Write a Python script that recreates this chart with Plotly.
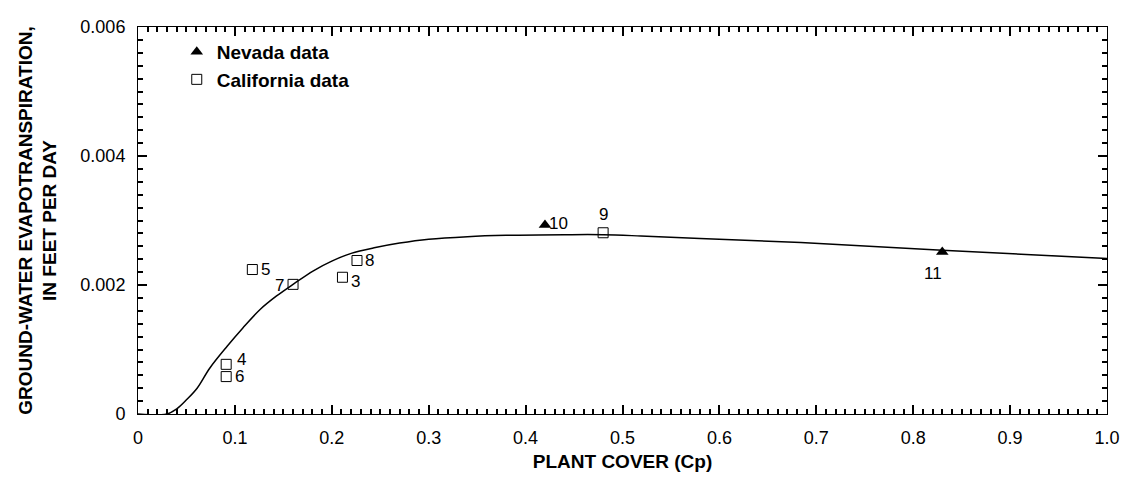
import plotly.graph_objects as go

# ---- data ----
ca_id = ["3", "8", "7", "5", "4", "6", "9"]
ca_cover = [0.211, 0.226, 0.160, 0.118, 0.091, 0.091, 0.480]
ca_et = [0.00212, 0.00238, 0.00201, 0.00224, 0.00077, 0.00058, 0.00281]

nv_id = ["10", "11"]
nv_cover = [0.420, 0.830]
nv_et = [0.00293, 0.00251]

curve_cover = [0.0, 0.030, 0.040, 0.050, 0.061, 0.074, 0.092, 0.108, 0.126, 0.143,
               0.160, 0.181, 0.200, 0.220, 0.245, 0.270, 0.300, 0.340, 0.380, 0.440,
               0.480, 0.519, 0.580, 0.684, 0.830, 1.0]
curve_et = [0.0, 0.0, 0.00008, 0.00022, 0.00040, 0.00071, 0.00105, 0.00133, 0.00162, 0.00183,
            0.00201, 0.00222, 0.00237, 0.00249, 0.00258, 0.00265, 0.00271, 0.00275, 0.00277,
            0.00278, 0.00278, 0.00276, 0.00272, 0.00266, 0.00254, 0.00241]

x_dtick = 0.1
y_dtick = 0.002
x_label_alias = {"1": "1.0"}

# label placement (pixel offsets from marker)
label_offsets = {
    "3": (13, -4), "8": (13, 0), "7": (-14, -1), "5": (13, 0), "4": (15, 5),
    "6": (13, 0), "9": (0, 18), "10": (14, 2), "11": (-9, -21),
}

FONT = "Liberation Sans, Arial, Helvetica, sans-serif"

fig = go.Figure()
fig.add_trace(go.Scatter(
    x=curve_cover, y=curve_et, mode="lines", showlegend=False,
    line=dict(color="black", width=1.5, shape="spline", smoothing=1.0),
    hoverinfo="skip"))
fig.add_trace(go.Scatter(
    x=nv_cover, y=nv_et, mode="markers", name="<b>Nevada data</b>", legendgroup="nv",
    marker=dict(symbol="triangle-up", size=11, color="black")))
fig.add_trace(go.Scatter(
    x=ca_cover, y=ca_et, mode="markers", name="<b>California data</b>", legendgroup="ca",
    marker=dict(symbol="square-open", size=10, color="black", line=dict(width=1))))

annotations = []
for ids, xs, ys in ((ca_id, ca_cover, ca_et), (nv_id, nv_cover, nv_et)):
    for lab, xv, yv in zip(ids, xs, ys):
        dx, dy = label_offsets[lab]
        annotations.append(dict(
            x=xv, y=yv, xref="x", yref="y", text=lab, showarrow=False,
            xshift=dx, yshift=dy, font=dict(size=17, color="black", family=FONT)))

axis_common = dict(
    showgrid=False, zeroline=False, showline=True, linecolor="black", linewidth=1,
    mirror="allticks", ticks="inside", tickcolor="black", ticklen=9, tickwidth=1.5,
    tickmode="linear", tick0=0, automargin=False,
    tickfont=dict(size=18, color="black", family=FONT))

fig.update_xaxes(
    range=[0, 1.0], dtick=x_dtick, labelalias=x_label_alias, ticklabelstandoff=7,
    minor=dict(ticks="inside", dtick=0.01, ticklen=5, tickcolor="black", tickwidth=1.5),
    title=dict(text="<b>PLANT COVER (Cp)</b>", font=dict(size=19, color="black", family=FONT),
               standoff=8),
    **axis_common)
fig.update_yaxes(
    range=[0, 0.006], dtick=y_dtick, ticklabelstandoff=8,
    minor=dict(ticks="inside", dtick=0.0002, ticklen=5, tickcolor="black", tickwidth=1.5),
    title=dict(text="<b>GROUND-WATER EVAPOTRANSPIRATION,<br>IN FEET PER DAY</b>",
               font=dict(size=19, color="black", family=FONT), standoff=18),
    **axis_common)

fig.update_layout(
    width=1123, height=481,
    margin=dict(l=138, r=16, t=27, b=67),
    paper_bgcolor="white", plot_bgcolor="white",
    font=dict(family=FONT, color="black"),
    annotations=annotations,
    legend=dict(x=0.040, y=0.985, xanchor="left", yanchor="top",
                bgcolor="rgba(0,0,0,0)", borderwidth=0,
                font=dict(size=19, color="black", family=FONT), itemwidth=30,
                traceorder="normal"),
)

fig.write_html("out.html")
